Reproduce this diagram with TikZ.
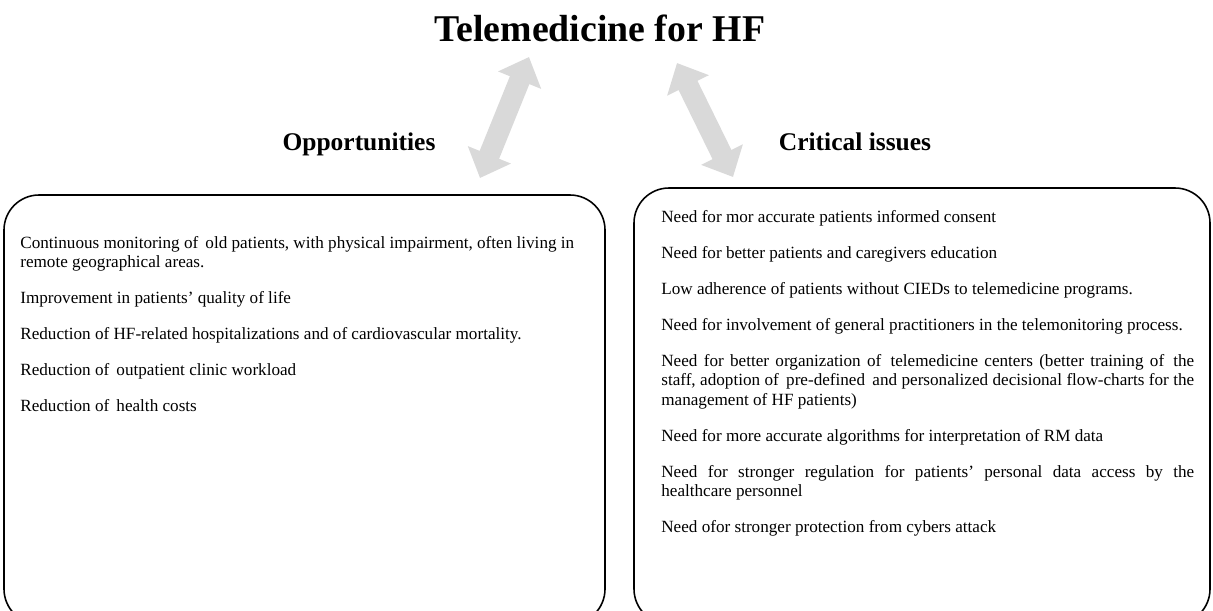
\documentclass[tikz,border=0pt]{standalone}
\usepackage{fontspec}
\setmainfont{Liberation Serif}
\usepackage{tikz}
\usetikzlibrary{arrows.meta}
\colorlet{arrowgray}{black!15}

\begin{document}
\begin{tikzpicture}[x=0.02cm,y=-0.02cm,
    twoway/.style={arrowgray,line width=0.42cm,
      {Triangle[length=0.5cm,width=0.9cm]}-{Triangle[length=0.5cm,width=0.9cm]}},
    panel/.style={draw=black,line width=0.9pt,rounded corners=0.7cm},
    heading/.style={anchor=base,font=\fontsize{14.5}{17}\selectfont\bfseries},
    items/.style={anchor=north west,inner sep=0pt,
      font=\fontsize{9.75}{11.1}\selectfont}]
    \useasboundingbox (0,0) rectangle (1213,610);

    \node[font=\fontsize{21.5}{25}\selectfont\bfseries] (T) at (600,28) {Telemedicine for HF};
    \node[heading] (O) at (359,150) {Opportunities};
    \node[heading] (C) at (855,150) {Critical issues};

    % double arrows between title and the two sides
    \coordinate (lb) at (480,178);
    \coordinate (lt) at (529,57);
    \coordinate (rt) at (677,63);
    \coordinate (rb) at (733,177);
    \draw[twoway] (lb) -- (lt);
    \draw[twoway] (rt) -- (rb);

    % the two panels run past the lower edge
    \draw[panel] (4,195) rectangle (605,624);
    \draw[panel] (634,188) rectangle (1210,624);

    \node[items,text width=11.6cm,align=flush left] (OL) at (20,236) {%
      \setlength{\parskip}{0.33cm}\hyphenpenalty=10000%
      Continuous monitoring of\, old patients, with physical impairment, often living in remote geographical areas.\par
      Improvement in patients' quality of life\par
      Reduction of HF-related hospitalizations and of cardiovascular mortality.\par
      Reduction of\, outpatient clinic workload\par
      Reduction of\, health costs};

    % spaces may stretch but not shrink
    \node[items,text width=10.66cm,align=justify] (CL) at (661,210) {%
      \setlength{\parskip}{0.33cm}\hyphenpenalty=10000%
      \spaceskip=\fontdimen2\font plus \fontdimen3\font minus 0pt%
      Need for mor accurate patients informed consent\par
      Need for better patients and caregivers education\par
      Low adherence of patients without CIEDs to telemedicine programs.\par
      Need for involvement of general practitioners in the telemonitoring process.\par
      Need for better organization of\, telemedicine centers (better training of\, the staff, adoption of\, pre-defined\, and personalized decisional flow-charts for the management of HF patients)\par
      Need for more accurate algorithms for interpretation of RM data\par
      Need for stronger regulation for patients' personal data access by the healthcare personnel\par
      Need ofor stronger protection from cybers attack};
\end{tikzpicture}
\end{document}
